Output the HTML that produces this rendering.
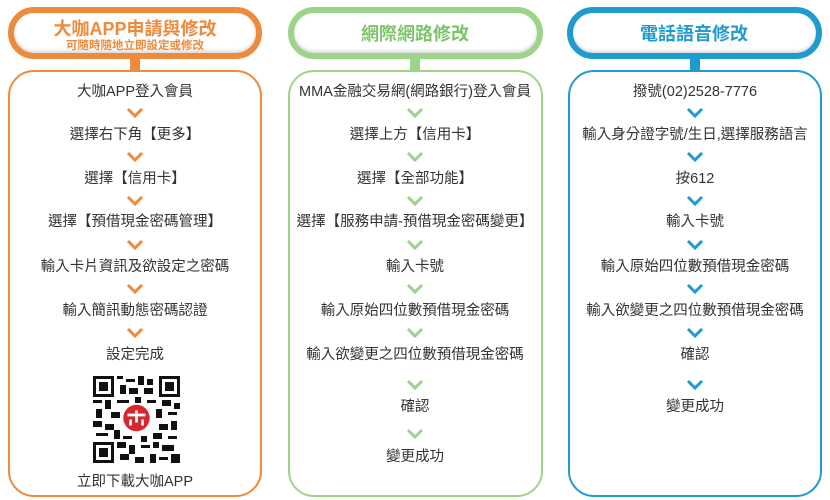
<!DOCTYPE html>
<html><head><meta charset="utf-8"><style>
body{margin:0;width:830px;height:500px;background:#fff;position:relative;overflow:hidden;font-family:"Liberation Sans","Noto Sans CJK TC",sans-serif}
.hd{position:absolute;top:7px;height:40px;border:6px solid;border-radius:28px;background:#fff;box-shadow:inset 0 -2px 3px rgba(0,0,0,.15)}
.neck{position:absolute;top:56px;width:10px;height:16px}
.bd{position:absolute;top:70px;height:423px;border:2px solid;border-radius:26px;background:#fff}
.t{position:absolute;width:300px;margin-left:-150px;text-align:center;font-size:14.5px;color:#333;line-height:18px}
.ttl{position:absolute;width:254px;text-align:center;font-weight:bold}
svg.c{position:absolute;width:18px;height:10px;margin-left:-9px}
</style></head><body>

<!-- orange -->
<div class="hd" style="left:8px;width:242px;border-color:#ee8a3c"></div>
<div class="neck" style="left:130px;background:#ee8a3c"></div>
<div class="bd" style="left:8px;width:250px;border-color:#ee8a3c"></div>
<div class="ttl" style="left:8px;top:15px;font-size:18px;color:#ee8a3c">大咖APP申請與修改</div>
<div class="ttl" style="left:8px;top:37px;font-size:11.5px;color:#ee8a3c">可隨時隨地立即設定或修改</div>

<!-- green -->
<div class="hd" style="left:288px;width:243px;border-color:#9cd48a"></div>
<div class="neck" style="left:410px;background:#9cd48a"></div>
<div class="bd" style="left:288px;width:251px;border-color:#9cd48a"></div>
<div class="ttl" style="left:288px;top:20px;font-size:18px;color:#7cc46a">網際網路修改</div>

<!-- blue -->
<div class="hd" style="left:567px;width:243px;border-color:#1f9bcf"></div>
<div class="neck" style="left:690px;background:#1f9bcf"></div>
<div class="bd" style="left:568px;width:250px;border-color:#1f9bcf"></div>
<div class="ttl" style="left:567px;top:20px;font-size:18px;color:#1f9bcf">電話語音修改</div>

<!-- col1 -->
<div class="t" style="left:135px;top:83px">大咖APP登入會員</div>
<div class="t" style="left:135px;top:126px">選擇右下角【更多】</div>
<div class="t" style="left:135px;top:170px">選擇【信用卡】</div>
<div class="t" style="left:135px;top:213px">選擇【預借現金密碼管理】</div>
<div class="t" style="left:135px;top:258px">輸入卡片資訊及欲設定之密碼</div>
<div class="t" style="left:135px;top:302px">輸入簡訊動態密碼認證</div>
<div class="t" style="left:135px;top:346px">設定完成</div>
<div class="t" style="left:135px;top:473px">立即下載大咖APP</div>

<svg style="position:absolute;left:93px;top:376px" width="87" height="87" viewBox="0 0 29 29">
<rect width="29" height="29" fill="#fff"/>
<g fill="#111">
<path d="M0 0h7v7h-7zM1 1v5h5v-5zM2 2h3v3h-3z" fill-rule="evenodd"/>
<path d="M22 0h7v7h-7zM23 1v5h5v-5zM24 2h3v3h-3z" fill-rule="evenodd"/>
<path d="M0 22h7v7h-7zM1 23v5h5v-5zM2 24h3v3h-3z" fill-rule="evenodd"/>
<rect x="8" y="0" width="2" height="1"/><rect x="11" y="1" width="3" height="1"/><rect x="15" y="0" width="2" height="3"/><rect x="18" y="1" width="2" height="2"/><rect x="9" y="3" width="2" height="3"/><rect x="12" y="4" width="3" height="2"/><rect x="17" y="4" width="3" height="2"/>
<rect x="0" y="8" width="3" height="1"/><rect x="4" y="8" width="2" height="3"/><rect x="8" y="8" width="4" height="1"/><rect x="14" y="7" width="2" height="2"/><rect x="18" y="8" width="3" height="1"/><rect x="23" y="8" width="3" height="2"/><rect x="27" y="9" width="2" height="2"/>
<rect x="1" y="11" width="2" height="3"/><rect x="6" y="12" width="3" height="2"/><rect x="21" y="11" width="2" height="3"/><rect x="25" y="12" width="3" height="1"/>
<rect x="0" y="15" width="3" height="2"/><rect x="4" y="16" width="3" height="2"/><rect x="22" y="16" width="3" height="2"/><rect x="26" y="15" width="2" height="3"/>
<rect x="1" y="19" width="4" height="1"/><rect x="7" y="18" width="2" height="3"/><rect x="10" y="20" width="3" height="1"/><rect x="16" y="20" width="2" height="2"/><rect x="20" y="19" width="3" height="2"/><rect x="25" y="20" width="3" height="1"/>
<rect x="8" y="22" width="3" height="2"/><rect x="12" y="23" width="2" height="3"/><rect x="16" y="23" width="3" height="1"/><rect x="20" y="22" width="2" height="2"/><rect x="23" y="23" width="4" height="2"/>
<rect x="9" y="26" width="3" height="2"/><rect x="14" y="27" width="3" height="2"/><rect x="19" y="26" width="2" height="3"/><rect x="22" y="27" width="3" height="1"/><rect x="26" y="26" width="3" height="3"/>
</g>
<circle cx="14.5" cy="14" r="5" fill="#fff"/>
<circle cx="14.5" cy="14" r="4.4" fill="#d8282f"/>
<path d="M11.5 13h6M12.5 14.5v2M16.5 14.5v2M14.5 11.5v4" stroke="#fff" stroke-width=".9" fill="none"/>
</svg>

<!-- col2 -->
<div class="t" style="left:415px;top:83px">MMA金融交易網(網路銀行)登入會員</div>
<div class="t" style="left:415px;top:126px">選擇上方【信用卡】</div>
<div class="t" style="left:415px;top:170px">選擇【全部功能】</div>
<div class="t" style="left:415px;top:213px">選擇【服務申請-預借現金密碼變更】</div>
<div class="t" style="left:415px;top:258px">輸入卡號</div>
<div class="t" style="left:415px;top:302px">輸入原始四位數預借現金密碼</div>
<div class="t" style="left:415px;top:346px">輸入欲變更之四位數預借現金密碼</div>
<div class="t" style="left:415px;top:398px">確認</div>
<div class="t" style="left:415px;top:448px">變更成功</div>

<!-- col3 -->
<div class="t" style="left:695px;top:83px">撥號(02)2528-7776</div>
<div class="t" style="left:695px;top:126px">輸入身分證字號/生日,選擇服務語言</div>
<div class="t" style="left:695px;top:170px">按612</div>
<div class="t" style="left:695px;top:213px">輸入卡號</div>
<div class="t" style="left:695px;top:258px">輸入原始四位數預借現金密碼</div>
<div class="t" style="left:695px;top:302px">輸入欲變更之四位數預借現金密碼</div>
<div class="t" style="left:695px;top:346px">確認</div>
<div class="t" style="left:695px;top:398px">變更成功</div>

<!-- chevrons -->
<svg class="c" style="left:135px;top:108px"><polyline points="2,1 9,8 16,1" fill="none" stroke="#ee8a3c" stroke-width="3"/></svg>
<svg class="c" style="left:135px;top:152px"><polyline points="2,1 9,8 16,1" fill="none" stroke="#ee8a3c" stroke-width="3"/></svg>
<svg class="c" style="left:135px;top:196px"><polyline points="2,1 9,8 16,1" fill="none" stroke="#ee8a3c" stroke-width="3"/></svg>
<svg class="c" style="left:135px;top:240px"><polyline points="2,1 9,8 16,1" fill="none" stroke="#ee8a3c" stroke-width="3"/></svg>
<svg class="c" style="left:135px;top:284px"><polyline points="2,1 9,8 16,1" fill="none" stroke="#ee8a3c" stroke-width="3"/></svg>
<svg class="c" style="left:135px;top:328px"><polyline points="2,1 9,8 16,1" fill="none" stroke="#ee8a3c" stroke-width="3"/></svg>

<svg class="c" style="left:415px;top:108px"><polyline points="2,1 9,8 16,1" fill="none" stroke="#9cd48a" stroke-width="3"/></svg>
<svg class="c" style="left:415px;top:152px"><polyline points="2,1 9,8 16,1" fill="none" stroke="#9cd48a" stroke-width="3"/></svg>
<svg class="c" style="left:415px;top:196px"><polyline points="2,1 9,8 16,1" fill="none" stroke="#9cd48a" stroke-width="3"/></svg>
<svg class="c" style="left:415px;top:240px"><polyline points="2,1 9,8 16,1" fill="none" stroke="#9cd48a" stroke-width="3"/></svg>
<svg class="c" style="left:415px;top:284px"><polyline points="2,1 9,8 16,1" fill="none" stroke="#9cd48a" stroke-width="3"/></svg>
<svg class="c" style="left:415px;top:328px"><polyline points="2,1 9,8 16,1" fill="none" stroke="#9cd48a" stroke-width="3"/></svg>
<svg class="c" style="left:415px;top:380px"><polyline points="2,1 9,8 16,1" fill="none" stroke="#9cd48a" stroke-width="3"/></svg>
<svg class="c" style="left:415px;top:429px"><polyline points="2,1 9,8 16,1" fill="none" stroke="#9cd48a" stroke-width="3"/></svg>

<svg class="c" style="left:695px;top:108px"><polyline points="2,1 9,8 16,1" fill="none" stroke="#1f9bcf" stroke-width="3"/></svg>
<svg class="c" style="left:695px;top:152px"><polyline points="2,1 9,8 16,1" fill="none" stroke="#1f9bcf" stroke-width="3"/></svg>
<svg class="c" style="left:695px;top:196px"><polyline points="2,1 9,8 16,1" fill="none" stroke="#1f9bcf" stroke-width="3"/></svg>
<svg class="c" style="left:695px;top:240px"><polyline points="2,1 9,8 16,1" fill="none" stroke="#1f9bcf" stroke-width="3"/></svg>
<svg class="c" style="left:695px;top:284px"><polyline points="2,1 9,8 16,1" fill="none" stroke="#1f9bcf" stroke-width="3"/></svg>
<svg class="c" style="left:695px;top:328px"><polyline points="2,1 9,8 16,1" fill="none" stroke="#1f9bcf" stroke-width="3"/></svg>
<svg class="c" style="left:695px;top:380px"><polyline points="2,1 9,8 16,1" fill="none" stroke="#1f9bcf" stroke-width="3"/></svg>
</body></html>
